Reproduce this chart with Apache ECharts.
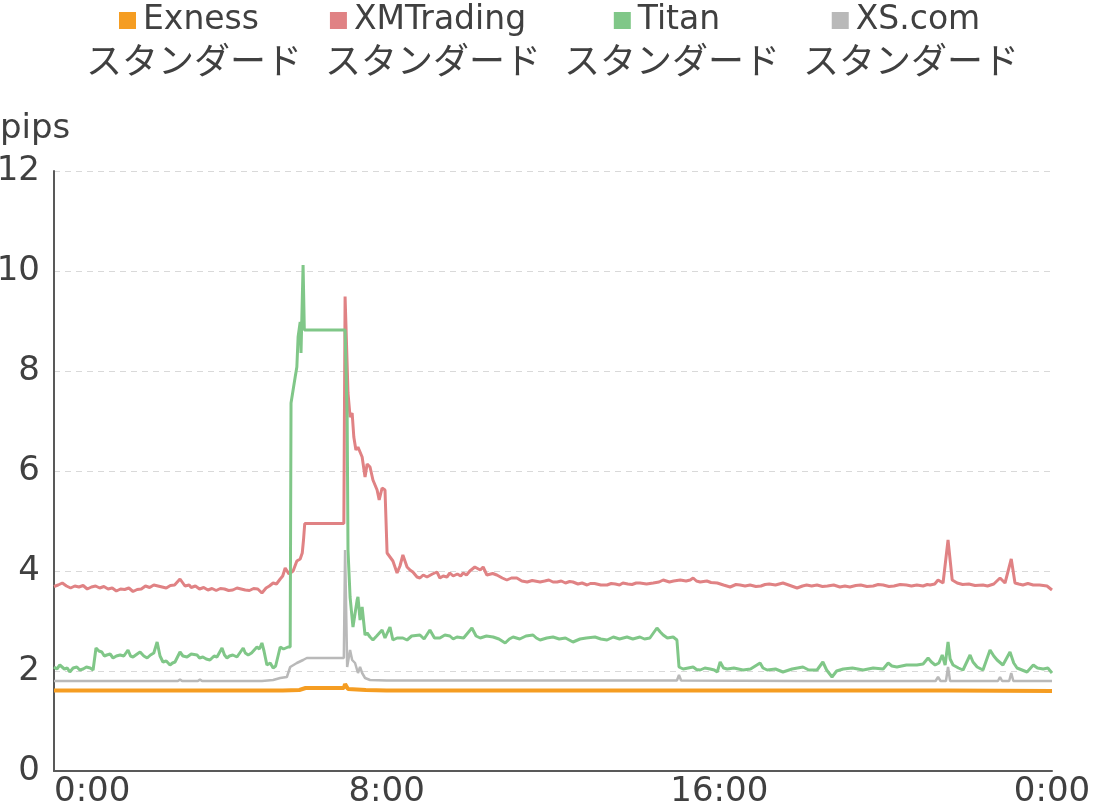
<!DOCTYPE html>
<html>
<head>
<meta charset="utf-8">
<title>スプレッド推移</title>
<script src="https://cdn.jsdelivr.net/npm/echarts@6/dist/echarts.min.js"></script>
<style>
  html, body { margin: 0; padding: 0; background: #fff; }
  #chart { width: 1100px; height: 807px; }
</style>
</head>
<body>
<div id="chart"></div>
<script>
// series names (brand + account type)
var brands = ['Exness', 'XMTrading', 'Titan', 'XS.com'];
var accountType = 'スタンダード';
var colors = ['#f59d22', '#e08284', '#80c788', '#b9b9b9'];

// x ticks in hours, y ticks in pips
var xTicks = [0, 8, 16, 24];
var yTicks = [0, 2, 4, 6, 8, 10, 12];

// [hour, pips]
var exness = [
    [0, 1.61], [5.5, 1.61], [5.9, 1.62], [6.05, 1.66], [6.97, 1.66], [7.0, 1.74], [7.07, 1.64],
    [7.5, 1.62], [8.0, 1.61], [15.0, 1.61], [21.5, 1.61], [24, 1.60]
];

var xmTrading = [
    [0, 3.69], [0.1, 3.72], [0.2, 3.76], [0.3, 3.70], [0.4, 3.66], [0.5, 3.70], [0.6, 3.68], [0.7, 3.71],
    [0.8, 3.64], [0.9, 3.68], [1.0, 3.70], [1.1, 3.66], [1.2, 3.69], [1.3, 3.64], [1.4, 3.66],
    [1.5, 3.60], [1.6, 3.64], [1.7, 3.63], [1.8, 3.66], [1.9, 3.59], [2.0, 3.63], [2.1, 3.64],
    [2.2, 3.70], [2.3, 3.67], [2.4, 3.72], [2.5, 3.70], [2.6, 3.68], [2.7, 3.66], [2.8, 3.71],
    [2.9, 3.72], [3.03, 3.84], [3.15, 3.70], [3.25, 3.72], [3.3, 3.67], [3.4, 3.70], [3.5, 3.64],
    [3.6, 3.67], [3.7, 3.62], [3.8, 3.65], [3.9, 3.61], [4.0, 3.65], [4.1, 3.64], [4.2, 3.61],
    [4.3, 3.62], [4.4, 3.66], [4.5, 3.64], [4.6, 3.62], [4.7, 3.61], [4.8, 3.65], [4.9, 3.64],
    [5.0, 3.56], [5.1, 3.66], [5.18, 3.70], [5.27, 3.76], [5.35, 3.74], [5.44, 3.84], [5.5, 3.90],
    [5.56, 4.06], [5.65, 3.94], [5.75, 4.00], [5.84, 4.20], [5.92, 4.24], [5.97, 4.36], [6.0, 4.62],
    [6.03, 4.95], [6.97, 4.95], [7.0, 9.49], [7.07, 7.56],
    [7.12, 7.08], [7.17, 7.16], [7.21, 6.68], [7.26, 6.42], [7.31, 6.48], [7.41, 6.28], [7.48, 5.88],
    [7.53, 6.14], [7.60, 6.08], [7.67, 5.82], [7.77, 5.62], [7.82, 5.42], [7.89, 5.66], [7.96, 5.62],
    [8.01, 4.36], [8.08, 4.28], [8.15, 4.20], [8.25, 3.96], [8.32, 4.10], [8.39, 4.32], [8.49, 4.08],
    [8.56, 4.02], [8.63, 3.98], [8.73, 3.88], [8.80, 3.86], [8.88, 3.92], [8.97, 3.88], [9.1, 3.94],
    [9.21, 3.98], [9.28, 3.86], [9.36, 3.90], [9.45, 3.88], [9.52, 3.96], [9.6, 3.90], [9.7, 3.94],
    [9.78, 3.90], [9.84, 3.96], [9.92, 3.92], [10.0, 4.00], [10.12, 4.08], [10.25, 4.02],
    [10.32, 4.08], [10.41, 3.92], [10.55, 3.95], [10.65, 3.92], [10.78, 3.86], [10.89, 3.82],
    [11.0, 3.86], [11.13, 3.86], [11.25, 3.80], [11.38, 3.78], [11.5, 3.81], [11.69, 3.78],
    [11.8, 3.80], [11.9, 3.82], [12.0, 3.78], [12.10, 3.78], [12.2, 3.80], [12.3, 3.76],
    [12.4, 3.79], [12.48, 3.78], [12.6, 3.74], [12.7, 3.76], [12.82, 3.72], [12.9, 3.75],
    [13.0, 3.75], [13.15, 3.72], [13.30, 3.72], [13.4, 3.75], [13.5, 3.74], [13.6, 3.72],
    [13.68, 3.76], [13.8, 3.74], [13.9, 3.73], [14.0, 3.76], [14.09, 3.76], [14.25, 3.74],
    [14.41, 3.76], [14.55, 3.78], [14.65, 3.82], [14.8, 3.78], [14.9, 3.80], [15.06, 3.82],
    [15.2, 3.80], [15.3, 3.82], [15.37, 3.86], [15.45, 3.80], [15.54, 3.78], [15.7, 3.80],
    [15.8, 3.77], [15.95, 3.76], [16.1, 3.72], [16.26, 3.68], [16.4, 3.73], [16.5, 3.72],
    [16.62, 3.70], [16.74, 3.72], [16.88, 3.69], [17.0, 3.70], [17.1, 3.73], [17.2, 3.74],
    [17.35, 3.72], [17.53, 3.76], [17.7, 3.71], [17.87, 3.66], [18.0, 3.70], [18.1, 3.72],
    [18.22, 3.70], [18.35, 3.72], [18.48, 3.69], [18.6, 3.70], [18.75, 3.72], [18.9, 3.68],
    [19.02, 3.70], [19.14, 3.68], [19.28, 3.71], [19.4, 3.72], [19.55, 3.69], [19.7, 3.70],
    [19.82, 3.73], [19.94, 3.72], [20.08, 3.69], [20.2, 3.70], [20.35, 3.73], [20.5, 3.72],
    [20.62, 3.70], [20.75, 3.72], [20.9, 3.70], [21.0, 3.73], [21.07, 3.72], [21.18, 3.74],
    [21.26, 3.82], [21.38, 3.76], [21.50, 4.62], [21.60, 3.82], [21.72, 3.76], [21.85, 3.73],
    [22.0, 3.74], [22.15, 3.71], [22.34, 3.72], [22.45, 3.70], [22.6, 3.74], [22.75, 3.86],
    [22.87, 3.76], [23.02, 4.24], [23.11, 3.76], [23.2, 3.74], [23.3, 3.72], [23.42, 3.75],
    [23.55, 3.72], [23.7, 3.72], [23.88, 3.70], [24.0, 3.62]
];

var titan = [
    [0, 2.08], [0.07, 2.04], [0.14, 2.12], [0.25, 2.04], [0.32, 2.06], [0.38, 1.98], [0.46, 2.06],
    [0.55, 2.08], [0.62, 2.02], [0.7, 2.04], [0.78, 2.08], [0.87, 2.06], [0.94, 2.02], [0.98, 2.02],
    [1.01, 2.46], [1.08, 2.40], [1.15, 2.38], [1.21, 2.30], [1.27, 2.32], [1.35, 2.34], [1.42, 2.26],
    [1.50, 2.30], [1.59, 2.32], [1.68, 2.30], [1.78, 2.42], [1.84, 2.30], [1.90, 2.28], [2.0, 2.34],
    [2.07, 2.38], [2.16, 2.30], [2.24, 2.26], [2.32, 2.32], [2.40, 2.36], [2.48, 2.58], [2.55, 2.30],
    [2.62, 2.18], [2.70, 2.20], [2.79, 2.12], [2.85, 2.16], [2.91, 2.18], [3.03, 2.38], [3.10, 2.30],
    [3.20, 2.28], [3.30, 2.34], [3.44, 2.32], [3.50, 2.26], [3.58, 2.28], [3.66, 2.24], [3.75, 2.22],
    [3.85, 2.30], [3.92, 2.28], [4.04, 2.46], [4.10, 2.32], [4.16, 2.26], [4.22, 2.30], [4.30, 2.32],
    [4.40, 2.28], [4.55, 2.46], [4.60, 2.36], [4.67, 2.32], [4.75, 2.36], [4.88, 2.48], [4.94, 2.44],
    [5.0, 2.56], [5.05, 2.40], [5.12, 2.12], [5.20, 2.16], [5.27, 2.06], [5.33, 2.10], [5.44, 2.48],
    [5.52, 2.44], [5.63, 2.48], [5.68, 2.48], [5.70, 7.36],
    [5.75, 7.62], [5.80, 7.88], [5.84, 8.08], [5.87, 8.68], [5.92, 8.98], [5.94, 8.36], [5.99, 10.12],
    [6.02, 8.82], [7.0, 8.82], [7.05, 7.08], [7.07, 4.42], [7.12, 3.48], [7.19, 2.88], [7.29, 3.42],
    [7.31, 3.48], [7.36, 3.02], [7.41, 3.28], [7.48, 2.72], [7.53, 2.76], [7.60, 2.68], [7.67, 2.62],
    [7.76, 2.70], [7.89, 2.82], [7.96, 2.66], [8.08, 2.88], [8.15, 2.62], [8.25, 2.66], [8.39, 2.66],
    [8.49, 2.62], [8.60, 2.70], [8.80, 2.72], [8.90, 2.64], [9.04, 2.82], [9.15, 2.66], [9.28, 2.66],
    [9.40, 2.72], [9.52, 2.70], [9.60, 2.64], [9.69, 2.68], [9.85, 2.66], [10.05, 2.86], [10.15, 2.70],
    [10.25, 2.66], [10.40, 2.70], [10.56, 2.68], [10.70, 2.64], [10.85, 2.56], [10.95, 2.64],
    [11.04, 2.68], [11.20, 2.64], [11.35, 2.70], [11.52, 2.72], [11.60, 2.66], [11.69, 2.62],
    [11.85, 2.66], [12.0, 2.68], [12.15, 2.64], [12.30, 2.66], [12.48, 2.58], [12.65, 2.64],
    [12.80, 2.66], [13.01, 2.68], [13.15, 2.64], [13.30, 2.62], [13.45, 2.68], [13.60, 2.64],
    [13.78, 2.68], [13.92, 2.64], [14.09, 2.68], [14.20, 2.64], [14.33, 2.66], [14.50, 2.86],
    [14.58, 2.78], [14.65, 2.72], [14.75, 2.66], [14.89, 2.68], [14.98, 2.62], [15.03, 2.08],
    [15.13, 2.04], [15.25, 2.06], [15.37, 2.08], [15.45, 2.03], [15.54, 2.02], [15.65, 2.06],
    [15.78, 2.04], [15.88, 2.02], [15.95, 1.98], [16.02, 2.18], [16.10, 2.06], [16.19, 2.04],
    [16.35, 2.06], [16.57, 2.02], [16.75, 2.04], [16.98, 2.16], [17.05, 2.06], [17.15, 2.02],
    [17.35, 2.04], [17.53, 1.98], [17.75, 2.04], [18.01, 2.08], [18.15, 2.02], [18.35, 2.02],
    [18.49, 2.18], [18.58, 2.02], [18.71, 1.88], [18.82, 2.00], [18.98, 2.04], [19.20, 2.06],
    [19.46, 2.02], [19.70, 2.06], [19.94, 2.04], [20.06, 2.16], [20.15, 2.10], [20.27, 2.08],
    [20.50, 2.12], [20.75, 2.12], [20.90, 2.14], [21.02, 2.26], [21.10, 2.18], [21.19, 2.12],
    [21.28, 2.16], [21.36, 2.32], [21.43, 2.12], [21.50, 2.58], [21.55, 2.24], [21.62, 2.12],
    [21.75, 2.06], [21.86, 2.02], [22.03, 2.32], [22.10, 2.18], [22.20, 2.08], [22.34, 2.02],
    [22.51, 2.42], [22.60, 2.30], [22.68, 2.22], [22.82, 2.12], [22.99, 2.38], [23.08, 2.16],
    [23.16, 2.06], [23.28, 2.02], [23.40, 1.98], [23.55, 2.12], [23.65, 2.06], [23.79, 2.04],
    [23.90, 2.06], [24.0, 1.96]
];

var xsCom = [
    [0, 1.80], [2.98, 1.80], [3.03, 1.83], [3.08, 1.80], [3.46, 1.80], [3.51, 1.83], [3.56, 1.80],
    [5.0, 1.80], [5.27, 1.82], [5.44, 1.86], [5.60, 1.88], [5.68, 2.08], [5.84, 2.16], [5.99, 2.22],
    [6.08, 2.26], [6.97, 2.26], [7.0, 4.42], [7.05, 2.08], [7.12, 2.42], [7.17, 2.22], [7.24, 2.16],
    [7.31, 1.96], [7.36, 2.08], [7.41, 1.96], [7.48, 1.86], [7.60, 1.82], [8.0, 1.81], [10.0, 1.81],
    [12.0, 1.81], [14.98, 1.81], [15.03, 1.92], [15.08, 1.81], [18.0, 1.80], [21.2, 1.80],
    [21.26, 1.88], [21.32, 1.80], [21.45, 1.80], [21.50, 2.08], [21.55, 1.80], [22.70, 1.80],
    [22.75, 1.88], [22.80, 1.80], [22.97, 1.80], [23.02, 1.96], [23.07, 1.80], [24.0, 1.80]
];

var seriesData = [exness, xmTrading, titan, xsCom];
var lineWidths = [4, 3, 3, 2.5];

var font = '"DejaVu Sans", "Noto Sans CJK JP", sans-serif';
var textColor = '#404040';

var names = brands.map(function (b) { return b + ' ' + accountType; });

var rich = {
    a: { fontSize: 33, fontFamily: font, color: textColor, align: 'center', lineHeight: 44, padding: [0, 10, 0, 7] },
    b: { fontSize: 36, fontFamily: font, color: textColor, align: 'center', lineHeight: 44 }
};
colors.forEach(function (c, i) {
    rich['s' + i] = { width: 17, height: 17, backgroundColor: c, align: 'center' };
});

var myChart = echarts.init(document.getElementById('chart'));
var option = {
    animation: false,
    color: colors,
    textStyle: { fontFamily: font },
    legend: {
        data: names,
        top: 4,
        left: 'center',
        padding: 0,
        itemGap: 18,
        itemWidth: 0,
        itemHeight: 14,
        icon: 'none',
        selectedMode: false,
        formatter: function (name) {
            var i = names.indexOf(name);
            return '{s' + i + '|}{a|' + brands[i] + '}\n{b|' + accountType + '}';
        },
        textStyle: { rich: rich }
    },
    grid: {
        left: 54,
        right: 48,
        top: 171,
        bottom: 36,
        outerBoundsMode: 'none'
    },
    xAxis: {
        type: 'value',
        min: xTicks[0],
        max: xTicks[xTicks.length - 1],
        interval: 8,
        axisLine: { show: true, lineStyle: { color: '#595959', width: 2 } },
        axisTick: { show: false },
        splitLine: { show: false },
        axisLabel: {
            fontSize: 34,
            color: textColor,
            margin: 4,
            alignMinLabel: 'left',
            formatter: function (v) { return (v % 24) + ':00'; }
        }
    },
    yAxis: {
        type: 'value',
        min: yTicks[0],
        max: yTicks[yTicks.length - 1],
        interval: 2,
        name: 'pips',
        nameLocation: 'end',
        nameGap: 42,
        nameTextStyle: {
            fontSize: 34,
            color: textColor,
            align: 'left',
            verticalAlign: 'middle',
            padding: [0, 0, 0, -54]
        },
        axisLine: { show: true, lineStyle: { color: '#595959', width: 2 } },
        axisTick: { show: false },
        splitLine: { show: true, lineStyle: { color: '#d9d9d9', type: [6, 5], width: 1 } },
        axisLabel: { fontSize: 34, color: textColor, margin: 14 }
    },
    series: seriesData.map(function (d, i) {
        return {
            name: names[i],
            type: 'line',
            data: d,
            showSymbol: false,
            symbol: 'none',
            lineStyle: { width: lineWidths[i], color: colors[i] },
            itemStyle: { color: colors[i] },
            z: 2 + i
        };
    })
};
myChart.setOption(option);
</script>
</body>
</html>
